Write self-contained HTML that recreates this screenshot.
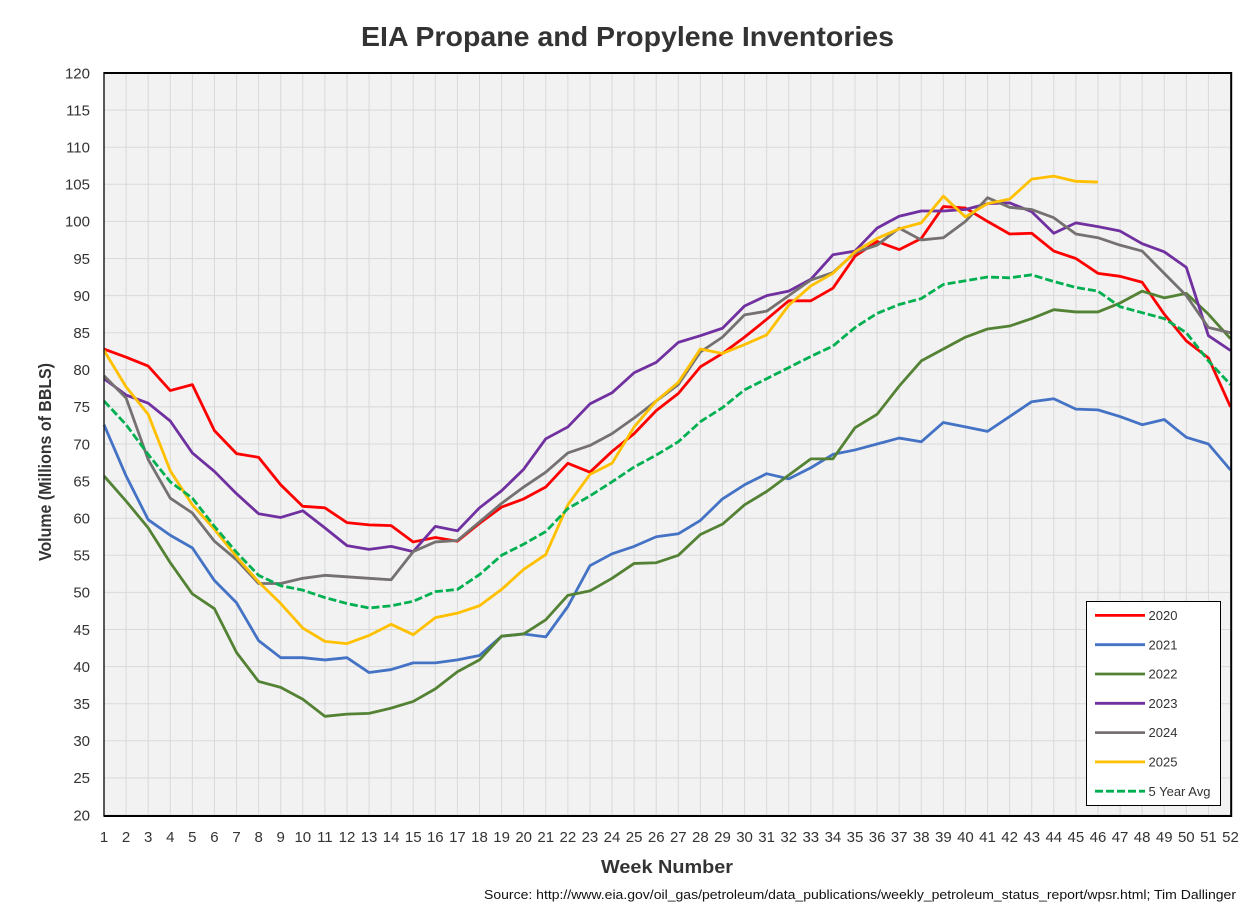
<!DOCTYPE html>
<html lang="en">
<head>
<meta charset="utf-8">
<title>EIA Propane and Propylene Inventories</title>
<style>
html,body{margin:0;padding:0;background:#fff;width:1256px;height:907px;overflow:hidden}
svg{display:block}
text{font-family:"Liberation Sans",sans-serif;fill:#333}
</style>
</head>
<body>
<svg id="chart" xmlns="http://www.w3.org/2000/svg" width="1256" height="907" viewBox="0 0 1256 907">
  <rect x="0" y="0" width="1256" height="907" fill="#fff"/>
  <text x="627.5" y="46" text-anchor="middle" font-size="28" font-weight="700" textLength="533" lengthAdjust="spacingAndGlyphs">EIA Propane and Propylene Inventories</text>
  <rect x="104" y="73" width="1126.5" height="742" fill="#f2f2f2"/>
  <g id="grid"></g>
  <g id="series"></g>
  <path d="M104 72.5V816" fill="none" stroke="#222" stroke-width="1.5"/>
  <path d="M103.5 73H1231.2V816H103.5" fill="none" stroke="#000" stroke-width="2"/>
  <g id="yticks"></g>
  <g id="xticks"></g>
  <text transform="translate(51,462) rotate(-90)" text-anchor="middle" font-size="17.5" font-weight="700" textLength="198" lengthAdjust="spacingAndGlyphs">Volume (Millions of BBLS)</text>
  <text x="667" y="873" text-anchor="middle" font-size="18.5" font-weight="700" textLength="132" lengthAdjust="spacingAndGlyphs">Week Number</text>
  <text x="484" y="899" font-size="13" fill="#000" style="fill:#111" textLength="752" lengthAdjust="spacingAndGlyphs">Source: http://www.eia.gov/oil_gas/petroleum/data_publications/weekly_petroleum_status_report/wpsr.html; Tim Dallinger</text>
  <g id="legend">
    <rect x="1086.5" y="601.5" width="134" height="204" fill="#fff" stroke="#000" stroke-width="1"/>
  </g>
</svg>
<script>
const weeks = [1,2,3,4,5,6,7,8,9,10,11,12,13,14,15,16,17,18,19,20,21,22,23,24,25,26,27,28,29,30,31,32,33,34,35,36,37,38,39,40,41,42,43,44,45,46,47,48,49,50,51,52];
const yTickValues = [20,25,30,35,40,45,50,55,60,65,70,75,80,85,90,95,100,105,110,115,120];
const seriesNames = ["2020","2021","2022","2023","2024","2025","5 Year Avg"];
const values2020 = [82.8,81.7,80.5,77.2,78,71.8,68.7,68.2,64.5,61.6,61.4,59.4,59.1,59,56.8,57.4,56.9,59.3,61.5,62.6,64.2,67.4,66.2,69,71.4,74.5,76.8,80.4,82.2,84.4,86.8,89.3,89.3,91,95.3,97.3,96.2,97.7,102,101.8,100,98.3,98.4,96,95,93,92.6,91.8,87.5,83.9,81.6,75];
const values2021 = [72.6,65.7,59.8,57.7,56,51.6,48.6,43.5,41.2,41.2,40.9,41.2,39.2,39.6,40.5,40.5,40.9,41.5,44.1,44.4,44,48.1,53.6,55.2,56.2,57.5,57.9,59.7,62.6,64.5,66,65.3,66.8,68.6,69.2,70,70.8,70.3,72.9,72.3,71.7,73.7,75.7,76.1,74.7,74.6,73.7,72.6,73.3,70.9,70,66.5];
const values2022 = [65.7,62.3,58.7,54,49.8,47.8,41.9,38,37.2,35.6,33.3,33.6,33.7,34.4,35.3,37,39.3,40.9,44.1,44.4,46.3,49.6,50.2,51.9,53.9,54,55,57.8,59.2,61.8,63.6,65.8,68,68,72.2,74,77.8,81.2,82.8,84.4,85.5,85.9,86.9,88.1,87.8,87.8,89,90.6,89.7,90.3,87.5,84.2];
const values2023 = [78.8,76.6,75.5,73.1,68.8,66.3,63.3,60.6,60.1,61,58.7,56.3,55.8,56.2,55.5,58.9,58.3,61.4,63.7,66.6,70.7,72.3,75.4,76.9,79.6,81,83.7,84.6,85.6,88.6,90,90.6,92.2,95.5,96,99.1,100.7,101.4,101.4,101.6,102.4,102.5,101.3,98.4,99.8,99.3,98.7,97,95.9,93.8,84.6,82.6];
const values2024 = [79.2,76.2,67.9,62.7,60.7,56.9,54.4,51.2,51.2,51.9,52.3,52.1,51.9,51.7,55.5,56.8,57,59.5,62,64.2,66.2,68.8,69.8,71.4,73.5,75.8,78,82.4,84.4,87.4,87.9,90,92.1,93.1,95.8,96.8,99.1,97.5,97.8,100,103.2,101.9,101.6,100.5,98.3,97.8,96.8,96,93,90,85.7,85];
const values2025 = [82.6,77.7,74,66.4,61.8,58.5,54.8,51.4,48.5,45.2,43.4,43.1,44.2,45.7,44.3,46.6,47.2,48.2,50.4,53.1,55.1,61.8,65.9,67.4,72.3,75.8,78.3,82.8,82.2,83.4,84.7,88.7,91.3,93,95.9,97.7,99,99.8,103.4,100.6,102.4,103,105.7,106.1,105.4,105.3];
const valuesAvg = [75.8,72.6,68.6,64.9,62.7,58.9,55.4,52.3,50.9,50.3,49.3,48.5,47.9,48.2,48.8,50.1,50.4,52.4,55,56.5,58.2,61.3,63,64.9,66.9,68.5,70.3,73,74.9,77.3,78.8,80.3,81.8,83.2,85.7,87.6,88.8,89.6,91.5,92,92.5,92.4,92.8,91.9,91.1,90.6,88.5,87.7,86.9,85,81.2,78];
const seriesValues = [values2020,values2021,values2022,values2023,values2024,values2025,valuesAvg];
const seriesColors = ["#ff0000","#4472c4","#548235","#7030a0","#767171","#ffc000","#00b050"];

const NS = "http://www.w3.org/2000/svg";
const xScale = w => 104 + (w - 1) * (1126.5 / 51);
const yScale = v => 815 - (v - 20) * (742 / 100);
function make(tag, parent, attrs) {
  const el = document.createElementNS(NS, tag);
  for (const k in attrs) el.setAttribute(k, attrs[k]);
  parent.appendChild(el);
  return el;
}
const grid = document.getElementById("grid");
const yticks = document.getElementById("yticks");
const xticks = document.getElementById("xticks");
const seriesGroup = document.getElementById("series");
const legend = document.getElementById("legend");

yTickValues.forEach(v => {
  const y = yScale(v);
  const line = make("line", grid, {x1: 104, x2: 1230.5, y1: y, y2: y, stroke: "#d9d9d9", "stroke-width": 1});
  
  
  const label = make("text", yticks, {x: 90, y: y + 5.3, "text-anchor": "end", "font-size": 15});
  
  
  label.textContent = v;
});
weeks.forEach(w => {
  const x = xScale(w);
  const line = make("line", grid, {x1: x, x2: x, y1: 73, y2: 815, stroke: "#d9d9d9", "stroke-width": 1});
  
  
  const label = make("text", xticks, {x: x, y: 842, "text-anchor": "middle", "font-size": 15});
  
  
  label.textContent = w;
});
seriesValues.forEach((vals, i) => {
  const pts = vals.map((v, j) => xScale(weeks[j]).toFixed(2) + "," + yScale(v).toFixed(2)).join(" ");
  const line = make("polyline", seriesGroup, {points: pts, fill: "none", stroke: seriesColors[i], "stroke-width": 2.8, "stroke-linejoin": "round"});
  if (i === 6) line.setAttribute("stroke-dasharray", "8 3");
  
  
});
seriesNames.forEach((name, i) => {
  const y = 615.4 + i * 29.3;
  const swatch = make("line", legend, {x1: 1095, x2: 1145, y1: y, y2: y, stroke: seriesColors[i], "stroke-width": 2.8});
  if (i === 6) swatch.setAttribute("stroke-dasharray", "8 3");
  
  
  const label = make("text", legend, {x: 1148.5, y: y + 4.6, "font-size": 13});
  
  
  label.textContent = name;
});
</script>
</body>
</html>
